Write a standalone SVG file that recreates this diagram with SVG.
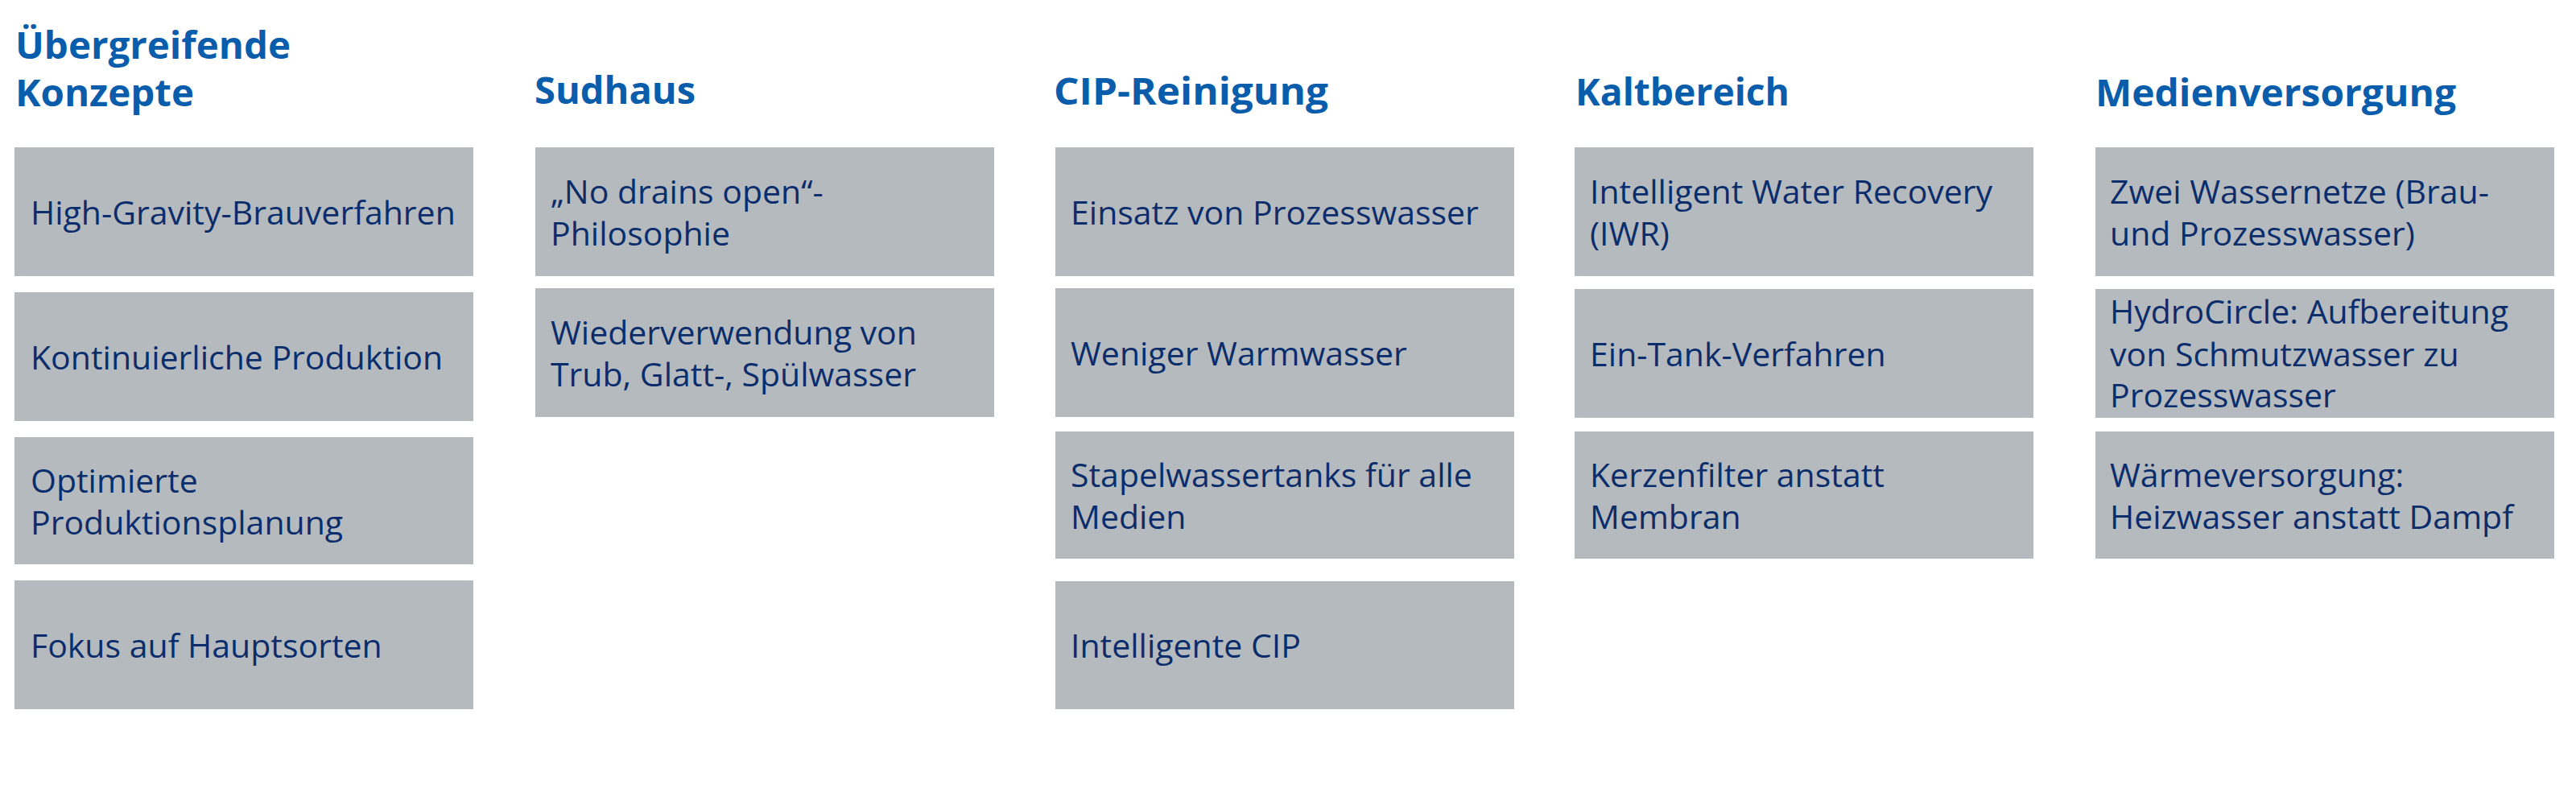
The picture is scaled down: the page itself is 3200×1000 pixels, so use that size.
<svg xmlns="http://www.w3.org/2000/svg" width="3200" height="1000" viewBox="0 0 3200 1000">
<style>
.bg{fill:#ffffff}
.box{fill:#b5babf}
.t{font-family:"Open Sans","Noto Sans","Liberation Sans",sans-serif;font-size:41px;fill:#0b2d6b}
.h{font-family:"Open Sans","Noto Sans","Liberation Sans",sans-serif;font-size:46px;font-weight:bold;fill:#0a5dab}
</style>
<rect class="bg" x="0" y="0" width="3200" height="1000"/>
<g id="headers">
<text class="h" x="19" y="73" textLength="342" lengthAdjust="spacingAndGlyphs">Übergreifende</text>
<text class="h" x="19" y="132" textLength="222" lengthAdjust="spacingAndGlyphs">Konzepte</text>
<text class="h" x="664" y="129" textLength="200" lengthAdjust="spacingAndGlyphs">Sudhaus</text>
<text class="h" x="1309" y="130" textLength="341" lengthAdjust="spacingAndGlyphs">CIP-Reinigung</text>
<text class="h" x="1957" y="131" textLength="266" lengthAdjust="spacingAndGlyphs">Kaltbereich</text>
<text class="h" x="2603" y="132" textLength="448" lengthAdjust="spacingAndGlyphs">Medienversorgung</text>
</g>
<g id="col1">
<g id="n1-1"><rect class="box" x="18" y="183" width="570" height="160"/><text class="t" x="38" y="279">High-Gravity-Brauverfahren</text></g>
<g id="n1-2"><rect class="box" x="18" y="363" width="570" height="160"/><text class="t" x="38" y="459">Kontinuierliche Produktion</text></g>
<g id="n1-3"><rect class="box" x="18" y="543" width="570" height="158"/><text class="t" x="38" y="612">Optimierte</text><text class="t" x="38" y="664">Produktionsplanung</text></g>
<g id="n1-4"><rect class="box" x="18" y="721" width="570" height="160"/><text class="t" x="38" y="817">Fokus auf Hauptsorten</text></g>
</g>
<g id="col2">
<g id="n2-1"><rect class="box" x="665" y="183" width="570" height="160"/><text class="t" x="684" y="253">„No drains open“-</text><text class="t" x="684" y="305">Philosophie</text></g>
<g id="n2-2"><rect class="box" x="665" y="358" width="570" height="160"/><text class="t" x="684" y="428">Wiederverwendung von</text><text class="t" x="684" y="480">Trub, Glatt-, Spülwasser</text></g>
</g>
<g id="col3">
<g id="n3-1"><rect class="box" x="1311" y="183" width="570" height="160"/><text class="t" x="1330" y="279">Einsatz von Prozesswasser</text></g>
<g id="n3-2"><rect class="box" x="1311" y="358" width="570" height="160"/><text class="t" x="1330" y="454">Weniger Warmwasser</text></g>
<g id="n3-3"><rect class="box" x="1311" y="536" width="570" height="158"/><text class="t" x="1330" y="605">Stapelwassertanks für alle</text><text class="t" x="1330" y="657">Medien</text></g>
<g id="n3-4"><rect class="box" x="1311" y="722" width="570" height="159"/><text class="t" x="1330" y="817">Intelligente CIP</text></g>
</g>
<g id="col4">
<g id="n4-1"><rect class="box" x="1956" y="183" width="570" height="160"/><text class="t" x="1975" y="253">Intelligent Water Recovery</text><text class="t" x="1975" y="305">(IWR)</text></g>
<g id="n4-2"><rect class="box" x="1956" y="359" width="570" height="160"/><text class="t" x="1975" y="455">Ein-Tank-Verfahren</text></g>
<g id="n4-3"><rect class="box" x="1956" y="536" width="570" height="158"/><text class="t" x="1975" y="605">Kerzenfilter anstatt</text><text class="t" x="1975" y="657">Membran</text></g>
</g>
<g id="col5">
<g id="n5-1"><rect class="box" x="2603" y="183" width="570" height="160"/><text class="t" x="2621" y="253">Zwei Wassernetze (Brau-</text><text class="t" x="2621" y="305">und Prozesswasser)</text></g>
<g id="n5-2"><rect class="box" x="2603" y="359" width="570" height="160"/><text class="t" x="2621" y="402">HydroCircle: Aufbereitung</text><text class="t" x="2621" y="455">von Schmutzwasser zu</text><text class="t" x="2621" y="506">Prozesswasser</text></g>
<g id="n5-3"><rect class="box" x="2603" y="536" width="570" height="158"/><text class="t" x="2621" y="605">Wärmeversorgung:</text><text class="t" x="2621" y="657">Heizwasser anstatt Dampf</text></g>
</g>
<g id="connectors"></g>
</svg>
